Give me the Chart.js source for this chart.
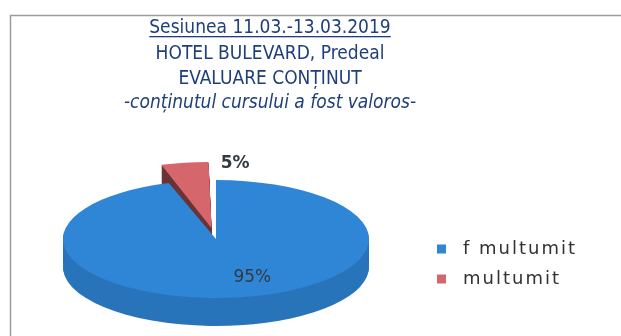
<!DOCTYPE html>
<html>
<head>
<meta charset="utf-8">
<script src="https://cdn.jsdelivr.net/npm/chart.js@4.4.1/dist/chart.umd.min.js"></script>
<style>
  html, body { margin: 0; padding: 0; background: #fff; }
  canvas { display: block; }
</style>
</head>
<body>
<canvas id="pie-chart" width="621" height="336"></canvas>
<script>
// Evaluare continut - sesiunea Predeal

const titleLines = [
    'Sesiunea 11.03.-13.03.2019',
    'HOTEL BULEVARD, Predeal',
    'EVALUARE CONȚINUT',
    '-conținutul cursului a fost valoros-'
];
const categories = ['f multumit', 'multumit'];
const percentages = [95, 5];
const sliceColors = ['#2f86d6', '#d4666c'];

// ellipse the round pie gets squashed into, plus wall height
const pie = { cx: 216, cy: 239, rx: 153, ry: 59, depth: 28 };
const wallShade = [0.87, 0.5];
const labelFrac = [0.6, 1.0];
const labelShift = [[22, 4], [43, -17]];

const ink = '#1f3e7c';

function ellipseTransform(ctx, ref) {
    ctx.translate(pie.cx, pie.cy);
    ctx.scale(pie.rx / ref.outerRadius, pie.ry / ref.outerRadius);
    ctx.translate(-ref.x, -ref.y);
}

// draws the dataset as a tilted 3D pie
const pie3d = {
    id: 'pie3d',
    beforeDatasetsDraw(chart) {
        const ctx = chart.ctx;
        const arcs = chart.getDatasetMeta(0).data;
        const ref = arcs[0];
        const order = [1, 0];

        // walls: darker copies stacked downwards
        order.forEach(i => {
            for (let d = pie.depth; d > 0; d--) {
                ctx.save();
                ctx.translate(0, d);
                ellipseTransform(ctx, ref);
                ctx.filter = `brightness(${wallShade[i]})`;
                arcs[i].draw(ctx);
                ctx.restore();
            }
        });

        // top faces
        order.forEach(i => {
            ctx.save();
            ellipseTransform(ctx, ref);
            arcs[i].draw(ctx);
            ctx.restore();
        });

        // percentage labels
        arcs.forEach((arc, i) => {
            const mid = (arc.startAngle + arc.endAngle) / 2;
            const r = arc.outerRadius * labelFrac[i];
            const px = arc.x + Math.cos(mid) * r;
            const py = arc.y + Math.sin(mid) * r;
            const sx = pie.cx + (px - ref.x) * pie.rx / ref.outerRadius + labelShift[i][0];
            const sy = pie.cy + (py - ref.y) * pie.ry / ref.outerRadius + labelShift[i][1];
            ctx.save();
            ctx.font = (i === 1 ? 'bold ' : '') + '17px "DejaVu Sans"';
            ctx.fillStyle = '#333a40';
            ctx.textAlign = 'center';
            ctx.textBaseline = 'middle';
            ctx.fillText(percentages[i] + '%', sx, sy);
            ctx.restore();
        });
        return false;
    }
};

// frame, heading and legend
const decor = {
    id: 'decor',
    afterDraw(chart) {
        const ctx = chart.ctx;
        ctx.save();

        ctx.strokeStyle = '#9c9c9c';
        ctx.lineWidth = 1.5;
        ctx.beginPath();
        ctx.moveTo(10.5, 336);
        ctx.lineTo(10.5, 15.5);
        ctx.lineTo(621, 15.5);
        ctx.stroke();

        const baselines = [33, 59, 84, 108];
        ctx.fillStyle = ink;
        ctx.textAlign = 'center';
        ctx.textBaseline = 'alphabetic';
        titleLines.forEach((line, i) => {
            ctx.font = (i === 3 ? 'italic ' : '') + '19px "DejaVu Sans Condensed"';
            ctx.fillText(line, 270, baselines[i]);
            if (i === 0) {
                const w = ctx.measureText(line).width;
                ctx.fillRect(270 - w / 2, baselines[i] + 3, w, 1.3);
            }
        });

        ctx.font = '18px "DejaVu Sans"';
        ctx.letterSpacing = '2px';
        ctx.textAlign = 'left';
        ctx.textBaseline = 'middle';
        categories.forEach((name, i) => {
            const y = 249 + i * 30;
            ctx.fillStyle = sliceColors[i];
            ctx.fillRect(437, y - 4.5, 9, 9);
            ctx.fillStyle = '#333333';
            ctx.fillText(name, 463, y);
        });
        ctx.restore();
    }
};

new Chart(document.getElementById('pie-chart').getContext('2d'), {
    type: 'pie',
    data: {
        labels: categories,
        datasets: [{
            data: percentages,
            backgroundColor: sliceColors,
            borderWidth: 0,
            offset: [0, 90],
        }],
    },
    options: {
        responsive: false,
        devicePixelRatio: 1,
        animation: false,
        plugins: {
            legend: { display: false },
            tooltip: { enabled: false },
        },
    },
    plugins: [pie3d, decor],
});
</script>
</body>
</html>
